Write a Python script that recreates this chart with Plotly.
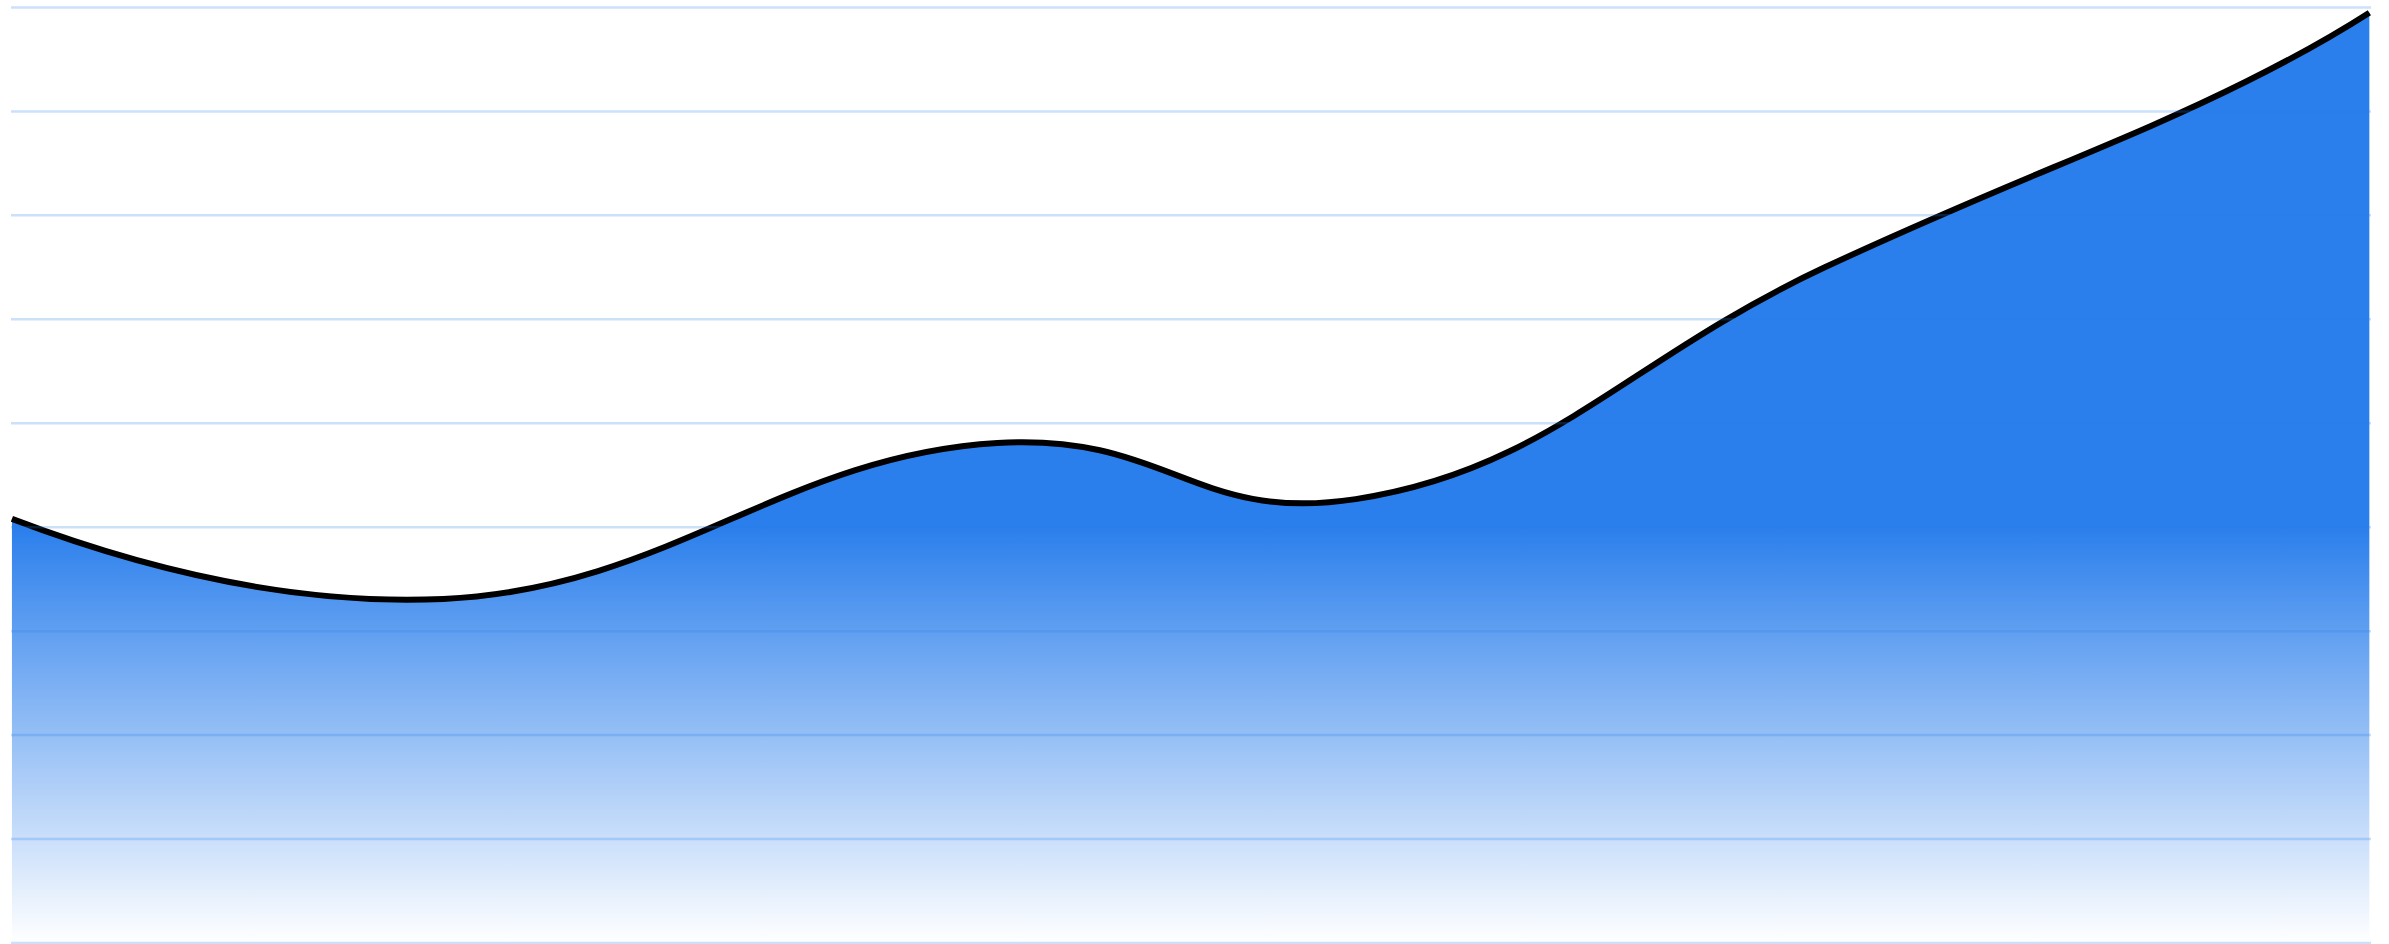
import plotly.graph_objects as go

# Data (x on a 0-100 scale across the chart, y = value)
x_pos = [0, 18.3, 41.8, 57.0, 76.9, 94.8, 100]
values = [4.08, 3.31, 4.81, 4.27, 6.50, 8.29, 8.95]
grid_values = [0, 1, 2, 3, 4, 5, 6, 7, 8, 9]

BLUE = "rgb(43,127,236)"
GRID = "rgba(43,127,236,0.24)"

fig = go.Figure()
fig.add_trace(go.Scatter(
    x=x_pos,
    y=values,
    mode="lines",
    line=dict(color="black", width=6, shape="spline", smoothing=1.3),
    fill="tozeroy",
    fillgradient=dict(
        type="vertical",
        start=0,
        stop=4,
        colorscale=[[0, "rgba(255,255,255,1)"], [1, BLUE]],
    ),
    hoverinfo="skip",
    showlegend=False,
))

for v in grid_values:
    fig.add_shape(
        type="line", xref="paper", yref="y",
        x0=0, x1=1, y0=v, y1=v,
        line=dict(color=GRID, width=2.5),
        layer="above",
    )

fig.update_layout(
    width=2389,
    height=944,
    margin=dict(l=11, r=18, t=3, b=0, pad=0),
    paper_bgcolor="white",
    plot_bgcolor="white",
    showlegend=False,
    xaxis=dict(range=[-0.04, 100.07], visible=False, showgrid=False, zeroline=False),
    yaxis=dict(range=[-0.0096, 9.043], visible=False, showgrid=False, zeroline=False),
)

fig.write_html("out.html", config={"displayModeBar": False},
               post_script="document.body.style.margin='0';document.body.style.overflow='hidden';")
